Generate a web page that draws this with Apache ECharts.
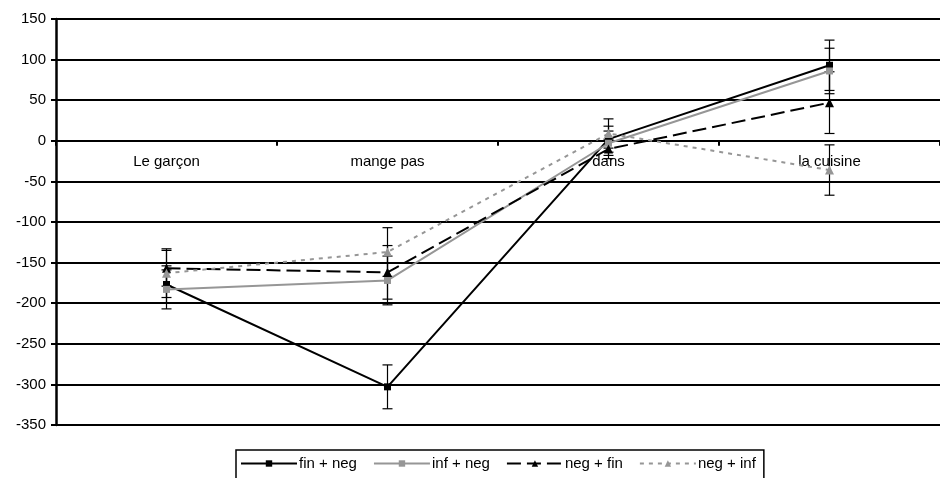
<!DOCTYPE html>
<html>
<head>
<meta charset="utf-8">
<script src="https://cdn.jsdelivr.net/npm/echarts@6/dist/echarts.min.js"></script>
<style>
  html, body { margin: 0; padding: 0; background: #fff; }
  #chart { width: 940px; height: 478px; }
</style>
</head>
<body>
<div id="chart"></div>
<script>
// Sentence positions along the x axis
const categories = ['Le garçon', 'mange pas', 'dans', 'la cuisine'];

// Mean values per condition
const finNeg = [-177, -303, 2, 93];
const infNeg = [-183, -172, -3, 86];
const negFin = [-157, -162, -10, 47];
const negInf = [-163, -137, 9, -36];

// Error bar half-widths per condition
const finNegErr = [23, 27, 16, 31];
const infNegErr = [24, 30, 15, 28];
const negFinErr = [22, 33, 12, 38];
const negInfErr = [30, 30, 18, 31];

// Value axis range and step
const yMin = -350;
const yMax = 150;
const yStep = 50;

const FONT = 'Liberation Sans, Arial, sans-serif';
const GRID_TOP = 19;
const GRID_BOTTOM = 53;
const HEIGHT = 478;

const chart = echarts.init(document.getElementById('chart'), null, { renderer: 'canvas' });

// The category axis sits on the zero line; its distance from the grid bottom
const plotH = HEIGHT - GRID_TOP - GRID_BOTTOM;
const zeroOffset = -plotH * (0 - yMin) / (yMax - yMin);

function errorRender(params, api) {
  const idx = api.value(0);
  const v = api.value(1);
  const e = api.value(2);
  const hi = api.coord([idx, v + e]);
  const lo = api.coord([idx, v - e]);
  const w = 5;
  const st = { stroke: '#000', lineWidth: 1.2 };
  return {
    type: 'group',
    children: [
      { type: 'line', shape: { x1: hi[0], y1: hi[1], x2: lo[0], y2: lo[1] }, style: st },
      { type: 'line', shape: { x1: hi[0] - w, y1: hi[1], x2: hi[0] + w, y2: hi[1] }, style: st },
      { type: 'line', shape: { x1: lo[0] - w, y1: lo[1], x2: lo[0] + w, y2: lo[1] }, style: st }
    ]
  };
}

function errSeries(vals, errs) {
  return {
    type: 'custom',
    renderItem: errorRender,
    data: vals.map((v, i) => [i, v, errs[i]]),
    z: 1,
    silent: true
  };
}

function lineSeries(name, vals, color, type, symbol, size) {
  return {
    name: name,
    type: 'line',
    data: vals,
    symbol: symbol,
    symbolSize: size,
    showSymbol: true,
    itemStyle: { color: color },
    lineStyle: { color: color, width: 2, type: type },
    z: 3
  };
}

const option = {
  backgroundColor: '#fff',
  animation: false,
  textStyle: { fontFamily: FONT },
  grid: { left: 56, right: -4, top: GRID_TOP, bottom: GRID_BOTTOM, containLabel: false },
  legend: {
    data: ['fin + neg', 'inf + neg', 'neg + fin', 'neg + inf'],
    left: 236,
    top: 450,
    padding: [6, 8, 24, 4],
    itemGap: 16,
    itemWidth: 56,
    itemHeight: 8,
    borderColor: '#000',
    borderWidth: 1.5,
    textStyle: { fontSize: 15, color: '#000', fontFamily: FONT, padding: [0, 0, 0, -3] }
  },
  xAxis: {
    type: 'category',
    data: categories,
    boundaryGap: true,
    position: 'bottom',
    offset: zeroOffset,
    axisLine: { onZero: false, lineStyle: { color: '#000', width: 2 } },
    axisTick: { show: true, interval: 0, length: 5, lineStyle: { color: '#000', width: 2 } },
    axisLabel: { color: '#000', fontSize: 15, margin: 14, interval: 0, fontFamily: FONT },
    splitLine: { show: false }
  },
  yAxis: {
    type: 'value',
    min: yMin,
    max: yMax,
    interval: yStep,
    axisLine: { show: true, lineStyle: { color: '#000', width: 2.5 } },
    axisTick: { show: true, length: 5, lineStyle: { color: '#000', width: 2 } },
    axisLabel: { color: '#000', fontSize: 15, margin: 10, fontFamily: FONT },
    splitLine: { show: true, lineStyle: { color: '#000', width: 2 } }
  },
  series: [
    errSeries(finNeg, finNegErr),
    errSeries(infNeg, infNegErr),
    errSeries(negFin, negFinErr),
    errSeries(negInf, negInfErr),
    lineSeries('fin + neg', finNeg, '#000000', 'solid', 'rect', 7),
    lineSeries('inf + neg', infNeg, '#969696', 'solid', 'rect', 7),
    lineSeries('neg + fin', negFin, '#000000', [14, 6], 'triangle', 9),
    lineSeries('neg + inf', negInf, '#969696', [4, 5], 'triangle', 9)
  ]
};

chart.setOption(option);
</script>
</body>
</html>
